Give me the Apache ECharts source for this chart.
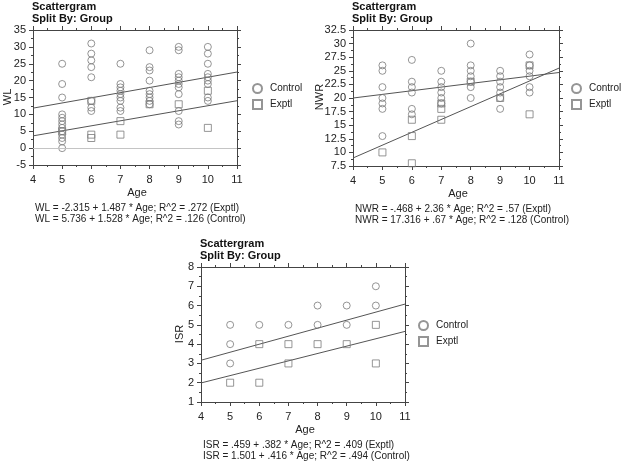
<!DOCTYPE html>
<html>
<head>
<meta charset="utf-8">
<script src="https://cdn.jsdelivr.net/npm/echarts@6/dist/echarts.min.js"></script>
<style>html,body{margin:0;padding:0;background:#fff;}#c{width:621px;height:463px;}</style>
</head>
<body>
<div id="c"></div>
<script>
// ---- data ----
const ages = [5, 6, 7, 8, 9, 10];
const wlControl = [[25,19,15,10,9,8,7,6,5,4,3,2,0],[31,28,26,24,21,14,12,11],[25,19,18,17,16,15,14,12,11],[29,24,23,20,17,16,15,14,13],[30,29,22,21,20,19,18,16,11,8,7],[30,28,25,22,21,20,19,15,14]];
const wlExptl = [[5],[14,4,3],[8,4],[13],[13],[17,6]];
const nwrControl = [[26,25,22,20,19,18,13],[27,23,22,21,18,17],[25,23,22,21,20,19],[30,26,25,24,23,22,20],[25,24,23,22,21,20,18],[28,26,25,24,22,21]];
const nwrExptl = [[10],[16,13,8],[19,18,16],[23],[20],[26,17]];
const isrControl = [[5,4,3],[5],[5],[6,5],[6,5],[7,6]];
const isrExptl = [[2],[4,2],[4,3],[4],[4],[5,3]];
// regression lines [intercept, slope]
const wlFitExptl = [-2.315, 1.487], wlFitControl = [5.736, 1.528];
const nwrFitExptl = [-0.468, 2.36], nwrFitControl = [17.316, 0.67];
const isrFitExptl = [0.459, 0.382], isrFitControl = [1.501, 0.416];
const xRange = [4, 11];
const equations = [
  ['WL = -2.315 + 1.487 * Age; R^2 = .272 (Exptl)', 'WL = 5.736 + 1.528 * Age; R^2 = .126 (Control)'],
  ['NWR = -.468 + 2.36 * Age; R^2 = .57 (Exptl)', 'NWR = 17.316 + .67 * Age; R^2 = .128 (Control)'],
  ['ISR = .459 + .382 * Age; R^2 = .409 (Exptl)', 'ISR = 1.501 + .416 * Age; R^2 = .494 (Control)']
];
const yNames = ['WL', 'NWR', 'ISR'];
const yRanges = [[-5, 35, 5], [7.5, 32.5, 2.5], [1, 8, 1]];

// ---- layout ----
const grids = [
  {left: 33, top: 30, width: 204, height: 135},
  {left: 353, top: 30, width: 206, height: 136},
  {left: 201, top: 267, width: 204, height: 135}
];
const yNameOffset = [25, 33, 21];
const legendLeft = [252, 571, 418];
const FONT = 'Liberation Sans, Arial, Helvetica, sans-serif';
const markColor = '#7a7a7a';
const axisColor = '#444';

function pairs(groups) {
  const out = [];
  groups.forEach((vals, i) => vals.forEach(v => out.push([ages[i], v])));
  return out;
}
function fitLine(f) { return xRange.map(x => [x, f[0] + f[1] * x]); }

const xAxis = [], yAxis = [], series = [], graphic = [], legend = [];
const panels = [
  [wlControl, wlExptl, wlFitControl, wlFitExptl],
  [nwrControl, nwrExptl, nwrFitControl, nwrFitExptl],
  [isrControl, isrExptl, isrFitControl, isrFitExptl]
];

function axisCommon(show) {
  return {
    axisLine: {show: true, onZero: false, lineStyle: {color: axisColor, width: 1}},
    axisTick: {show: true, length: 4, lineStyle: {color: axisColor}},
    minorTick: {show: true, splitNumber: 2, length: 2, lineStyle: {color: axisColor}},
    splitLine: {show: false},
    axisLabel: {show: show, color: '#222', fontSize: 11, fontFamily: FONT}
  };
}

panels.forEach((p, i) => {
  const g = grids[i];
  const yr = yRanges[i];
  xAxis.push(Object.assign({type: 'value', gridIndex: i, min: 4, max: 11, interval: 1, position: 'bottom'}, axisCommon(true)));
  xAxis[xAxis.length - 1].axisLabel.margin = 9;
  xAxis.push(Object.assign({type: 'value', gridIndex: i, min: 4, max: 11, interval: 1, position: 'top'}, axisCommon(false)));
  yAxis.push(Object.assign({type: 'value', gridIndex: i, min: yr[0], max: yr[1], interval: yr[2], position: 'left'}, axisCommon(true)));
  yAxis[yAxis.length - 1].axisLabel.margin = 7;
  yAxis.push(Object.assign({type: 'value', gridIndex: i, min: yr[0], max: yr[1], interval: yr[2], position: 'right'}, axisCommon(false)));
  const xi = i * 2, yi = i * 2;
  series.push({
    name: 'Control', type: 'scatter', xAxisIndex: xi, yAxisIndex: yi, symbol: 'circle', symbolSize: 7,
    itemStyle: {color: 'rgba(255,255,255,0)', borderColor: markColor, borderWidth: 1},
    data: pairs(p[0]), z: 3
  });
  series.push({
    name: 'Exptl', type: 'scatter', xAxisIndex: xi, yAxisIndex: yi, symbol: 'rect', symbolSize: 7,
    itemStyle: {color: 'rgba(255,255,255,0)', borderColor: markColor, borderWidth: 1},
    data: pairs(p[1]), z: 3
  });
  const lineSeries = {
    type: 'line', xAxisIndex: xi, yAxisIndex: yi, symbol: 'none', silent: true,
    lineStyle: {color: '#555', width: 1}, data: fitLine(p[2]), z: 2
  };
  if (i === 0) {
    lineSeries.markLine = {silent: true, symbol: 'none', label: {show: false},
      lineStyle: {color: '#c4c4c4', width: 1, type: 'solid'}, data: [{yAxis: 0}]};
  }
  series.push(lineSeries);
  series.push({type: 'line', xAxisIndex: xi, yAxisIndex: yi, symbol: 'none', silent: true,
    lineStyle: {color: '#555', width: 1}, data: fitLine(p[3]), z: 2});

  legend.push({
    orient: 'vertical', left: legendLeft[i], top: g.top + 53, itemGap: 5, padding: 0,
    itemWidth: 9, itemHeight: 9, selectedMode: false,
    textStyle: {fontSize: 10, fontFamily: FONT, color: '#222', padding: [0, 0, 0, 3]},
    data: [{name: 'Control', icon: 'circle'}, {name: 'Exptl', icon: 'rect'}]
  });

  // titles
  graphic.push({type: 'text', left: g.left - 1, top: g.top - 29,
    style: {text: 'Scattergram', font: 'bold 11px ' + FONT, fill: '#111'}});
  graphic.push({type: 'text', left: g.left - 1, top: g.top - 17,
    style: {text: 'Split By: Group', font: 'bold 11px ' + FONT, fill: '#111'}});
  // axis names
  graphic.push({type: 'text', x: g.left + g.width / 2 + 2, y: g.top + g.height + 28,
    style: {text: 'Age', font: '11px ' + FONT, fill: '#222', align: 'center', verticalAlign: 'middle'}});
  graphic.push({type: 'text', x: g.left - yNameOffset[i], y: g.top + 67, rotation: Math.PI / 2,
    style: {text: yNames[i], font: '11px ' + FONT, fill: '#222', align: 'center', verticalAlign: 'middle'}});
  // equations
  graphic.push({type: 'text', left: g.left + 2, top: g.top + g.height + 38,
    style: {text: equations[i][0], font: '10px ' + FONT, fill: '#222'}});
  graphic.push({type: 'text', left: g.left + 2, top: g.top + g.height + 49,
    style: {text: equations[i][1], font: '10px ' + FONT, fill: '#222'}});
});

const chart = echarts.init(document.getElementById('c'), null, {renderer: 'canvas'});
chart.setOption({
  animation: false,
  backgroundColor: '#fff',
  grid: grids.map(g => Object.assign({containLabel: false}, g)),
  xAxis: xAxis,
  yAxis: yAxis,
  legend: legend,
  series: series,
  graphic: graphic
});
</script>
</body>
</html>
